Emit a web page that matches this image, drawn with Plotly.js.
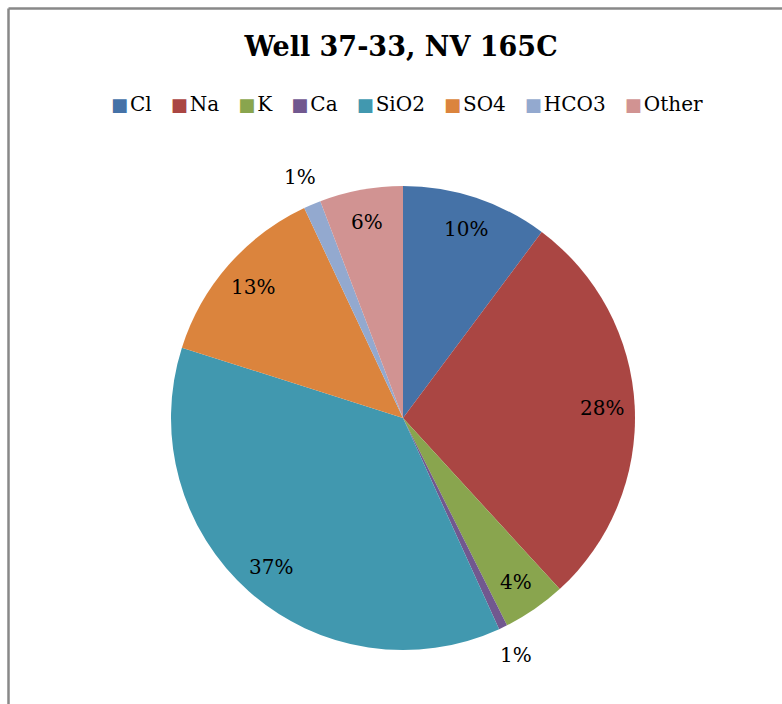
<!DOCTYPE html>
<html>
<head>
<meta charset="utf-8">
<script src="https://cdn.plot.ly/plotly-3.0.1.min.js"></script>
<style>
html, body { margin: 0; padding: 0; background: #fff; }
#chart { width: 782px; height: 704px; }
</style>
</head>
<body>
<div id="chart"></div>
<script>
const categories = ['Cl', 'Na', 'K', 'Ca', 'SiO2', 'SO4', 'HCO3', 'Other'];
const values = [10.2, 28.0, 4.4, 0.6, 36.7, 13.1, 1.2, 5.8];
const colors = ['#4572A7', '#AA4643', '#89A54E', '#71588F', '#4198AF', '#DB843D', '#93A9CF', '#D19392'];

const W = 782, H = 704;
const cx = 403, cy = 418, r = 232;
const serif = '"DejaVu Serif", "Liberation Serif", serif';

const trace = {
  type: 'pie',
  labels: categories,
  values: values,
  sort: false,
  direction: 'clockwise',
  rotation: 0,
  marker: { colors: colors, line: { width: 0 } },
  textinfo: 'none',
  hoverinfo: 'label+percent',
  showlegend: false,
  domain: { x: [(cx - r) / W, (cx + r) / W], y: [1 - (cy + r) / H, 1 - (cy - r) / H] }
};

// Percentage labels placed around the pie, derived from the data values
const total = values.reduce((a, b) => a + b, 0);
const annotations = [];
let cum = 0;
values.forEach((v, i) => {
  const frac = v / total;
  const theta = (cum + v / 2) / total * 2 * Math.PI;
  cum += v;
  const f = frac < 0.02 ? 1.13 : 0.86;
  const px = cx + f * r * Math.sin(theta);
  const py = cy - f * r * Math.cos(theta);
  annotations.push({
    xref: 'paper', yref: 'paper', x: px / W, y: 1 - py / H,
    xanchor: 'center', yanchor: 'middle', showarrow: false,
    text: Math.round(frac * 100) + '%',
    font: { family: serif, size: 20, color: '#000' }
  });
});

// Legend row built from categories and colors
const legendText = categories.map((c, i) =>
  '<span style="color:' + colors[i] + ';font-size:18px">\u25A0</span>\u200A' + c
).join('\u00A0\u00A0\u00A0');
annotations.push({
  xref: 'paper', yref: 'paper', x: 407 / W, y: 1 - 104 / H,
  xanchor: 'center', yanchor: 'middle', showarrow: false,
  text: legendText,
  font: { family: serif, size: 20, color: '#000' }
});

const layout = {
  width: W, height: H,
  margin: { l: 0, r: 0, t: 0, b: 0 },
  paper_bgcolor: '#fff',
  title: {
    text: '<b>Well 37-33, NV 165C</b>',
    font: { family: serif, size: 27, color: '#000' },
    x: 401 / W, xanchor: 'center', y: 1 - 47 / H, yanchor: 'middle'
  },
  showlegend: false,
  annotations: annotations,
  shapes: [
    { type: 'line', xref: 'paper', yref: 'paper', x0: 8.5 / W, x1: 8.5 / W, y0: -0.1, y1: 1 - 8.5 / H, line: { color: '#888', width: 2.5 } },
    { type: 'line', xref: 'paper', yref: 'paper', x0: 8.5 / W, x1: 1.1, y0: 1 - 8.5 / H, y1: 1 - 8.5 / H, line: { color: '#888', width: 2.5 } }
  ]
};

Plotly.newPlot('chart', [trace], layout, { displayModeBar: false, staticPlot: true });
</script>
</body>
</html>
